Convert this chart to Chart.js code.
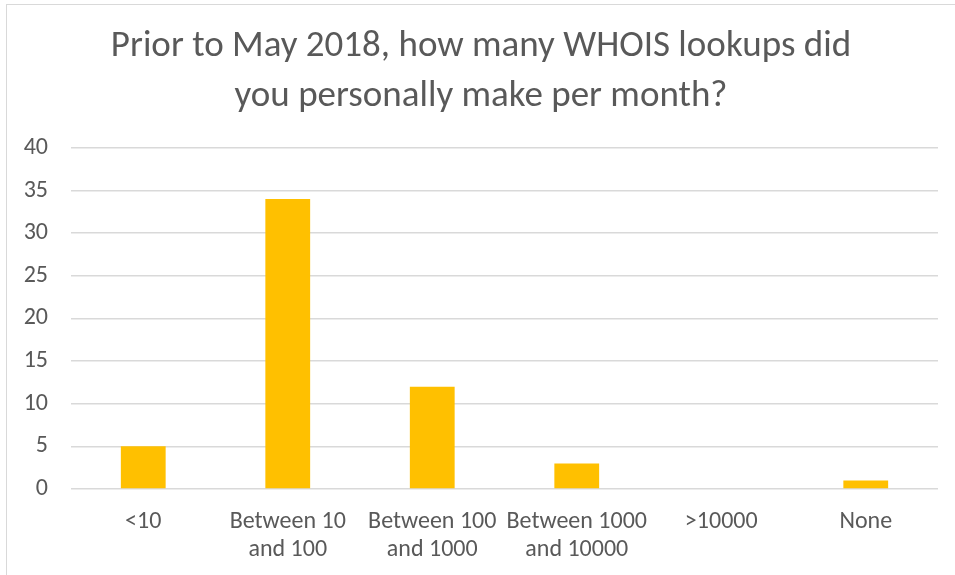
<!DOCTYPE html>
<html>
<head>
<meta charset="utf-8">
<script src="https://cdn.jsdelivr.net/npm/chart.js@4/dist/chart.umd.min.js"></script>
<style>
  html, body { margin: 0; padding: 0; background: #fff; overflow: hidden; }
  #wrap { position: relative; width: 955px; height: 575px; }
  #frame { position: absolute; left: 6px; top: 4px; width: 1000px; height: 700px;
           border: 1px solid #d9d9d9; box-sizing: border-box; pointer-events: none; }
</style>
</head>
<body>
<div id="wrap">
  <canvas id="chart" width="955" height="575"></canvas>
  <div id="frame"></div>
</div>
<script>
var titleLines = ['Prior to May 2018, how many WHOIS lookups did', 'you personally make per month?'];
var categories = [['<10'], ['Between 10', 'and 100'], ['Between 100', 'and 1000'], ['Between 1000', 'and 10000'], ['>10000'], ['None']];
var counts = [5, 34, 12, 3, 0, 1];
var yMin = 0, yMax = 40, yStep = 5;

var fontFamily = 'Carlito, Lato, "Liberation Sans", sans-serif';
var textColor = '#595959';

var ctx = document.getElementById('chart');
new Chart(ctx, {
  type: 'bar',
  data: {
    labels: categories,
    datasets: [{
      label: 'Responses',
      data: counts,
      backgroundColor: '#ffc000',
      borderWidth: 0,
      barPercentage: 0.31,
      categoryPercentage: 1
    }]
  },
  options: {
    responsive: false,
    animation: false,
    layout: { padding: { left: 24, right: 17, top: 22, bottom: 0 } },
    plugins: {
      legend: { display: false },
      tooltip: { enabled: false },
      title: {
        display: true,
        text: titleLines,
        color: textColor,
        font: { family: fontFamily, size: 37, weight: 'normal', lineHeight: 1.35 },
        padding: { top: 0, bottom: 26 }
      }
    },
    scales: {
      x: {
        grid: { display: false },
        border: { display: false },
        afterFit: function (scale) { scale.height = 86; },
        ticks: {
          color: textColor,
          font: { family: fontFamily, size: 24, lineHeight: 1.17 },
          padding: 11,
          maxRotation: 0,
          autoSkip: false
        }
      },
      y: {
        min: yMin,
        max: yMax,
        afterFit: function (scale) { scale.width = 47; },
        ticks: {
          stepSize: yStep,
          color: textColor,
          font: { family: fontFamily, size: 24 },
          padding: 23
        },
        grid: { color: '#d9d9d9', lineWidth: 1.5, drawTicks: false },
        border: { display: false }
      }
    }
  }
});
</script>
</body>
</html>
